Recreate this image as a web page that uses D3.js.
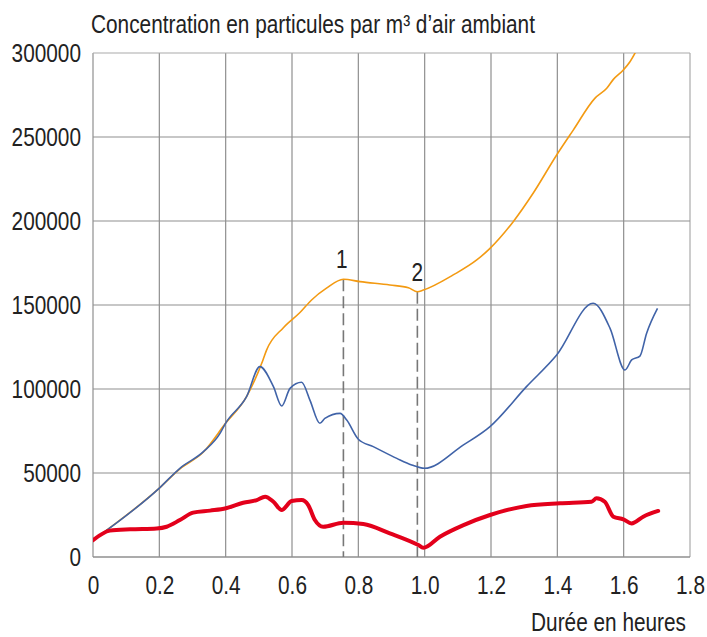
<!DOCTYPE html>
<html>
<head>
<meta charset="utf-8">
<script src="https://cdn.jsdelivr.net/npm/d3@7"></script>
<style>
  body { margin: 0; background: #fff; }
  text { font-family: "Liberation Sans", Arial, sans-serif; fill: #222; }
</style>
</head>
<body>
<div id="chart"></div>
<script>
// values (hours, particles per m3)
var orangeX = [0, 0.2, 0.262, 0.333, 0.4, 0.463, 0.512, 0.523, 0.574, 0.624, 0.659, 0.704, 0.755, 0.805, 0.895, 0.951, 0.978, 0.996, 1.086, 1.157, 1.197, 1.267, 1.327, 1.398, 1.448, 1.513, 1.549, 1.569, 1.599, 1.619, 1.645];
var orangeY = [10000, 41000, 52500, 62500, 79700, 95500, 117000, 123000, 136500, 145500, 153000, 160000, 165300, 163900, 161900, 160300, 157900, 158900, 167900, 176800, 183700, 199600, 216500, 239300, 254100, 273000, 279000, 284300, 289900, 294800, 304000];

var blueX = [0, 0.2, 0.262, 0.333, 0.383, 0.4, 0.463, 0.503, 0.544, 0.569, 0.594, 0.629, 0.654, 0.684, 0.699, 0.745, 0.765, 0.800, 0.845, 0.916, 0.961, 0.999, 1.117, 1.197, 1.307, 1.398, 1.508, 1.559, 1.604, 1.624, 1.649, 1.669, 1.702];
var blueY = [10000, 41000, 52800, 62700, 73600, 79700, 95400, 113300, 101400, 89900, 100400, 104000, 93400, 79600, 82500, 85500, 81500, 70100, 65700, 58700, 54800, 52800, 66700, 77600, 101400, 120200, 151000, 136100, 111300, 117300, 119600, 133100, 148000];

var redX = [0, 0.051, 0.112, 0.192, 0.222, 0.262, 0.302, 0.353, 0.401, 0.453, 0.494, 0.519, 0.544, 0.569, 0.599, 0.629, 0.649, 0.669, 0.694, 0.755, 0.815, 0.895, 0.981, 0.996, 1.046, 1.117, 1.197, 1.307, 1.408, 1.503, 1.518, 1.543, 1.569, 1.599, 1.624, 1.659, 1.704];
var redY = [10000, 15700, 16500, 17000, 18000, 22000, 26400, 27600, 29000, 32300, 33900, 35900, 32900, 28000, 33300, 33900, 30900, 22000, 18000, 20400, 19600, 14100, 7100, 5500, 12100, 19000, 25000, 30400, 32000, 32900, 34900, 32900, 24000, 22400, 20000, 24000, 27400];

var xTicks = [0, 0.2, 0.4, 0.6, 0.8, 1.0, 1.2, 1.4, 1.6, 1.8];
var xTickLabels = ["0", "0.2", "0.4", "0.6", "0.8", "1.0", "1.2", "1.4", "1.6", "1.8"];
var yTicks = [0, 50000, 100000, 150000, 200000, 250000, 300000];

// marked points on the orange curve
var markX = [0.755, 0.978];
var markY = [165300, 157900];
var markLabels = ["1", "2"];

var width = 707, height = 637;
var margin = {left: 93, right: 17, top: 53, bottom: 80};
var fontSize = 26;
var squeeze = 0.8; // condensed look

var svg = d3.select('#chart').append('svg')
    .attr('width', width)
    .attr('height', height);

var x = d3.scaleLinear().domain([0, 1.8]).range([margin.left, width - margin.right]);
var y = d3.scaleLinear().domain([0, 300000]).range([height - margin.bottom, margin.top]);

svg.append('clipPath').attr('id', 'clip')
    .append('rect')
    .attr('x', x(0)).attr('y', y(300000))
    .attr('width', x(1.8) - x(0)).attr('height', y(0) - y(300000));

// grid
svg.append('g').selectAll('line').data(xTicks).join('line')
    .attr('x1', d => x(d)).attr('x2', d => x(d))
    .attr('y1', y(0)).attr('y2', y(300000))
    .attr('stroke', d => d == 1.8 ? '#aaa' : '#8f8f8f')
    .attr('stroke-width', 1.2);

svg.append('g').selectAll('line').data(yTicks).join('line')
    .attr('x1', x(0)).attr('x2', x(1.8))
    .attr('y1', d => y(d)).attr('y2', d => y(d))
    .attr('stroke', d => d == 300000 ? '#aaa' : '#8f8f8f')
    .attr('stroke-width', d => d == 0 ? 1.6 : 1.2);

// axes labels
var xAxis = d3.axisBottom(x).tickValues(xTicks).tickFormat((d, i) => xTickLabels[i]).tickSize(0).tickPadding(19);
svg.append('g').attr('transform', `translate(0,${y(0)})`).call(xAxis)
    .call(g => g.select('.domain').remove())
    .selectAll('text').attr('font-size', fontSize).attr('font-family', null).attr('fill', '#222');

var yAxis = d3.axisLeft(y).tickValues(yTicks).tickFormat(d3.format('d')).tickSize(0).tickPadding(12);
svg.append('g').attr('transform', `translate(${x(0)},0)`).call(yAxis)
    .call(g => g.select('.domain').remove())
    .selectAll('text').attr('font-size', fontSize).attr('font-family', null).attr('fill', '#222');

// titles
svg.append('text')
    .attr('x', 91).attr('y', 33)
    .attr('font-size', fontSize)
    .text("Concentration en particules par m\u00b3 d\u2019air ambiant");

svg.append('text')
    .attr('x', 686).attr('y', 631)
    .attr('text-anchor', 'end')
    .attr('font-size', fontSize)
    .text('Durée en heures');

// dashed markers
svg.append('g').selectAll('line').data(markX).join('line')
    .attr('x1', d => x(d)).attr('x2', d => x(d))
    .attr('y1', (d, i) => y(markY[i])).attr('y2', y(0))
    .attr('stroke', '#777')
    .attr('stroke-width', 1.6)
    .attr('stroke-dasharray', '12,5');

svg.append('g').selectAll('text').data(markLabels).join('text')
    .attr('x', (d, i) => x(markX[i]) - (i == 0 ? 1.5 : 0))
    .attr('y', (d, i) => y(markY[i]) - 11)
    .attr('text-anchor', 'middle')
    .attr('font-size', fontSize)
    .text(d => d);

// curves
var line = d3.line().x(d => x(d[0])).y(d => y(d[1])).curve(d3.curveMonotoneX);
var plot = svg.append('g').attr('clip-path', 'url(#clip)');

plot.append('path')
    .datum(d3.zip(orangeX, orangeY))
    .attr('d', line)
    .attr('fill', 'none')
    .attr('stroke', '#f39a12')
    .attr('stroke-width', 1.6);

plot.append('path')
    .datum(d3.zip(blueX, blueY))
    .attr('d', line)
    .attr('fill', 'none')
    .attr('stroke', '#4063a8')
    .attr('stroke-width', 1.6);

plot.append('path')
    .datum(d3.zip(redX, redY))
    .attr('d', line)
    .attr('fill', 'none')
    .attr('stroke', '#e3001b')
    .attr('stroke-width', 4)
    .attr('stroke-linejoin', 'round')
    .attr('stroke-linecap', 'round');

// squeeze every text horizontally
svg.selectAll('text').each(function() {
    var w = this.getComputedTextLength();
    d3.select(this).attr('textLength', w * squeeze).attr('lengthAdjust', 'spacingAndGlyphs');
});
</script>
</body>
</html>
